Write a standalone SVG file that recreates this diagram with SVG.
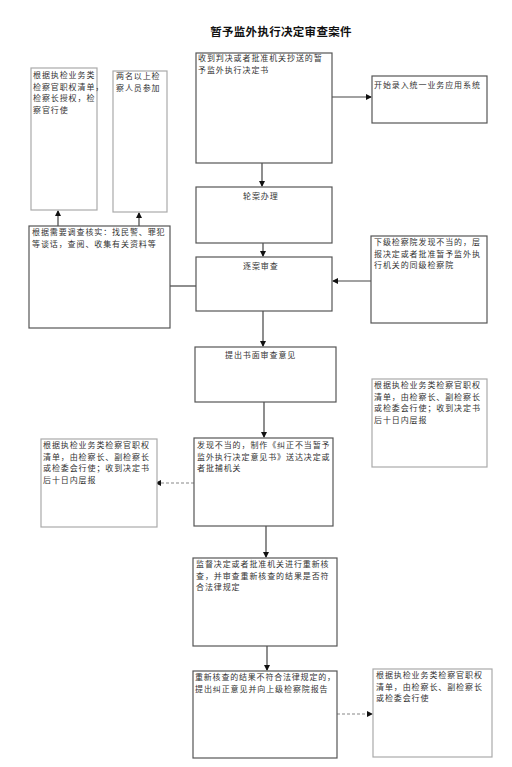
<svg xmlns="http://www.w3.org/2000/svg" width="512" height="767" viewBox="0 0 512 767">
<style>
text{font-family:"Noto Sans CJK SC","Noto Sans CJK JP",sans-serif;font-size:8px;letter-spacing:0.9px;fill:#333}
.title{font-size:11.5px;letter-spacing:0.3px;font-weight:bold;fill:#111}
.box{fill:#fff;stroke:#555;stroke-width:1.2}
.gbox{fill:#fff;stroke:#aaa;stroke-width:1.2}
.ln{stroke:#444;stroke-width:1.2;fill:none}
.dl{stroke:#888;stroke-width:1.2;fill:none;stroke-dasharray:3 2}
</style>
<defs>
<marker id="ah" markerWidth="6" markerHeight="6" refX="5" refY="3" orient="auto" markerUnits="userSpaceOnUse">
<path d="M0,0 L6,3 L0,6 Z" fill="#111"/>
</marker>
</defs>
<rect width="512" height="767" fill="#fff"/>
<text class="title" x="281" y="36" text-anchor="middle">暂予监外执行决定审查案件</text>

<g id="connectors">
<line class="ln" x1="332" y1="97" x2="371" y2="97" marker-end="url(#ah)"/>
<line class="ln" x1="262" y1="163" x2="262" y2="186" marker-end="url(#ah)"/>
<line class="ln" x1="263" y1="243" x2="263" y2="256" marker-end="url(#ah)"/>
<line class="ln" x1="170" y1="286" x2="196" y2="286"/>
<line class="ln" x1="58" y1="226" x2="58" y2="211" marker-end="url(#ah)"/>
<line class="ln" x1="139" y1="226" x2="139" y2="213" marker-end="url(#ah)"/>
<line class="ln" x1="371" y1="281" x2="333" y2="281" marker-end="url(#ah)"/>
<line class="ln" x1="263" y1="311" x2="263" y2="346" marker-end="url(#ah)"/>
<line class="ln" x1="264" y1="402" x2="264" y2="437" marker-end="url(#ah)"/>
<line class="dl" x1="194" y1="483" x2="156" y2="483" marker-end="url(#ah)"/>
<line class="ln" x1="266" y1="526" x2="266" y2="557" marker-end="url(#ah)"/>
<line class="ln" x1="267" y1="646" x2="267" y2="670" marker-end="url(#ah)"/>
<line class="dl" x1="337" y1="714" x2="372" y2="714" marker-end="url(#ah)"/>
</g>

<g id="n1">
<rect class="box" x="196" y="53" width="136" height="110"/>
<text x="198" y="61">收到判决或者批准机关抄送的暂</text>
<text x="198" y="72.5">予监外执行决定书</text>
</g>
<g id="n2">
<rect class="box" x="372" y="76" width="115" height="47"/>
<text x="374" y="88">开始录入统一业务应用系统</text>
</g>
<g id="n3">
<rect class="gbox" x="31" y="68" width="66" height="142"/>
<text x="33" y="78">根据执检业务类</text>
<text x="33" y="89.5">检察官职权清单，</text>
<text x="33" y="101">检察长授权，检</text>
<text x="33" y="112.5">察官行使</text>
</g>
<g id="n4">
<rect class="gbox" x="113" y="71" width="54" height="141"/>
<text x="116" y="79">两名以上检</text>
<text x="116" y="91">察人员参加</text>
</g>
<g id="n5">
<rect class="box" x="196" y="187" width="136" height="56"/>
<text x="243" y="199">轮案办理</text>
</g>
<g id="n6">
<rect class="box" x="29" y="226" width="141" height="102"/>
<text x="32" y="235">根据需要调查核实：找民警、罪犯</text>
<text x="32" y="246.5">等谈话，查阅、收集有关资料等</text>
</g>
<g id="n7">
<rect class="box" x="196" y="257" width="136" height="54"/>
<text x="243" y="269">逐案审查</text>
</g>
<g id="n8">
<rect class="box" x="371" y="236" width="116" height="87"/>
<text x="374" y="245">下级检察院发现不当的，层</text>
<text x="374" y="256.5">报决定或者批准暂予监外执</text>
<text x="374" y="268">行机关的同级检察院</text>
</g>
<g id="n9">
<rect class="box" x="195" y="347" width="141" height="55"/>
<text x="225" y="358">提出书面审查意见</text>
</g>
<g id="n10">
<rect class="gbox" x="372" y="379" width="115" height="88"/>
<text x="374" y="388">根据执检业务类检察官职权</text>
<text x="374" y="399.5">清单，由检察长、副检察长</text>
<text x="374" y="411">或检委会行使；收到决定书</text>
<text x="374" y="422.5">后十日内层报</text>
</g>
<g id="n11">
<rect class="box" x="194" y="438" width="139" height="88"/>
<text x="197" y="448">发现不当的，制作《纠正不当暂予</text>
<text x="197" y="459.5">监外执行决定意见书》送达决定或</text>
<text x="197" y="471">者批捕机关</text>
</g>
<g id="n12">
<rect class="gbox" x="41" y="439" width="116" height="88"/>
<text x="43" y="448">根据执检业务类检察官职权</text>
<text x="43" y="459.5">清单，由检察长、副检察长</text>
<text x="43" y="471">或检委会行使；收到决定书</text>
<text x="43" y="482.5">后十日内层报</text>
</g>
<g id="n13">
<rect class="box" x="193" y="558" width="144" height="88"/>
<text x="196" y="567">监督决定或者批准机关进行重新核</text>
<text x="196" y="578.5">查，并审查重新核查的结果是否符</text>
<text x="196" y="590">合法律规定</text>
</g>
<g id="n14">
<rect class="box" x="193" y="671" width="144" height="87"/>
<text x="195" y="680" style="letter-spacing:0.8px">重新核查的结果不符合法律规定的，</text>
<text x="195" y="691.5">提出纠正意见并向上级检察院报告</text>
</g>
<g id="n15">
<rect class="gbox" x="373" y="669" width="119" height="88"/>
<text x="376" y="678">根据执检业务类检察官职权</text>
<text x="376" y="689.5">清单，由检察长、副检察长</text>
<text x="376" y="701">或检委会行使</text>
</g>
</svg>
